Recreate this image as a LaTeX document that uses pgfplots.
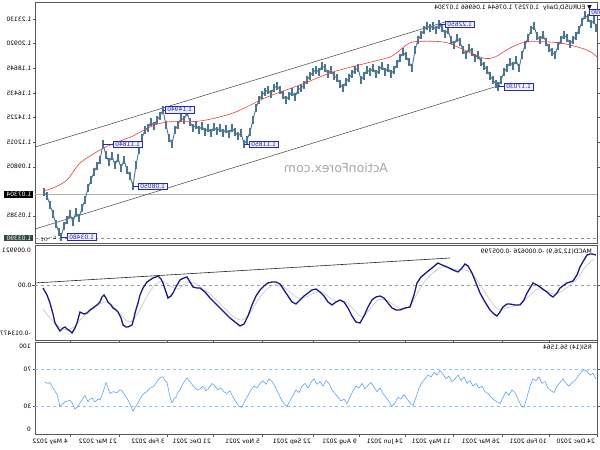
\documentclass[border=0pt]{standalone}
\usepackage{fontspec}
\setmainfont{DejaVu Sans}
\usepackage{graphicx}
\usepackage{pgfplots}
\pgfplotsset{compat=1.18}
\definecolor{barc}{RGB}{76,118,144}
\definecolor{mac}{RGB}{235,60,60}
\definecolor{macdc}{RGB}{25,25,130}
\definecolor{sigc}{RGB}{195,195,195}
\definecolor{rsic}{RGB}{70,150,235}
\definecolor{annb}{RGB}{40,40,170}
\definecolor{annf}{RGB}{240,240,255}
\definecolor{lowbox}{RGB}{50,72,62}
\newcommand{\mr}[1]{\reflectbox{#1}}
\newcommand{\sm}{\fontsize{6}{7}\selectfont}
\pgfplotsset{panel/.style={scale only axis, width=562pt, xmin=35, xmax=597,
  axis line style={draw=black!65, line width=0.6pt},
  tick style={draw=black!65, line width=0.5pt}, tick align=outside, major tick length=2.5pt,
  ticklabel style={font=\sm, inner sep=1pt}, xtick=\empty,
  yticklabel style={anchor=east}, clip=false}}
\tikzset{annot/.style={draw=annb, fill=annf, text=annb, font=\sm, inner xsep=2pt, inner ysep=1pt, line width=0.5pt}}
\begin{document}
\begin{tikzpicture}
\path[use as bounding box] (0,0) rectangle (600pt,-450pt);
% ---------------- main price panel
\begin{axis}[panel, at={(35pt,-2pt)}, anchor=north west, height=241pt,
  ymin=1.0293, ymax=1.2466,
  ytick={1.05385,1.09805,1.12015,1.14225,1.16435,1.18645,1.20920,1.23130},
  yticklabels={\mr{1.05385},\mr{1.09805},\mr{1.12015},\mr{1.14225},\mr{1.16435},\mr{1.18645},\mr{1.20920},\mr{1.23130}}]
\addplot[black!30, line width=0.5pt] coordinates {(35,1.07304)(597,1.07304)};
\addplot[black!45, dashed, line width=0.5pt] coordinates {(35,1.0339)(597,1.0339)};
\addplot[black!75, line width=0.5pt] coordinates {(35,1.1158)(445,1.2286)};
\addplot[black!75, line width=0.5pt] coordinates {(35,1.0419)(500,1.1715)};
\addplot[barc, line width=0.9pt, mark=none, error bars/.cd, y dir=both, y fixed=0.0038,
  error mark=none, error bar style={barc, line width=1.2pt}] coordinates {
(44,1.0753)(47,1.0716)(50,1.0635)(53,1.0554)(56,1.0464)(59,1.0392)(61,1.0348)(64,1.0446)(67,1.0500)(70,1.0554)
(73,1.0482)(76,1.0572)(79,1.0518)(82,1.0608)(85,1.0680)(88,1.0789)(91,1.0861)(94,1.0933)(97,1.0987)(100,1.1041)
(103,1.1184)(106,1.1086)(109,1.1023)(112,1.1077)(115,1.0996)(118,1.1059)(121,1.0969)(124,1.1041)(127,1.0951)(130,1.0897)
(133,1.0805)(136,1.0996)(139,1.1131)(142,1.1240)(145,1.1312)(148,1.1330)(151,1.1384)(154,1.1348)(157,1.1402)(160,1.1438)
(163,1.1494)(166,1.1357)(169,1.1240)(172,1.1186)(175,1.1312)(178,1.1357)(181,1.1420)(184,1.1402)(187,1.1474)(190,1.1384)
(193,1.1330)(196,1.1357)(199,1.1312)(202,1.1348)(205,1.1294)(208,1.1330)(211,1.1285)(214,1.1339)(217,1.1303)(220,1.1330)
(223,1.1285)(226,1.1321)(229,1.1276)(232,1.1330)(235,1.1294)(238,1.1258)(241,1.1285)(244,1.1185)(247,1.1222)(250,1.1294)
(253,1.1402)(256,1.1510)(259,1.1582)(262,1.1627)(265,1.1655)(268,1.1673)(271,1.1637)(274,1.1691)(277,1.1709)(280,1.1673)
(283,1.1627)(286,1.1582)(289,1.1618)(292,1.1655)(295,1.1609)(298,1.1673)(301,1.1691)(304,1.1718)(307,1.1763)(310,1.1799)
(313,1.1835)(316,1.1853)(319,1.1835)(322,1.1889)(325,1.1871)(328,1.1817)(331,1.1853)(334,1.1799)(337,1.1781)(340,1.1727)
(343,1.1691)(346,1.1745)(349,1.1781)(352,1.1817)(355,1.1853)(358,1.1871)(361,1.1763)(364,1.1799)(367,1.1853)(370,1.1835)
(373,1.1871)(376,1.1817)(379,1.1853)(382,1.1889)(385,1.1835)(388,1.1871)(391,1.1817)(394,1.1853)(397,1.1907)(400,1.1961)
(403,1.2015)(406,1.1979)(409,1.1925)(412,1.1871)(415,1.2033)(418,1.2124)(421,1.2169)(424,1.2214)(427,1.2250)(430,1.2232)
(433,1.2250)(436,1.2214)(439,1.2265)(442,1.2232)(445,1.2178)(448,1.2214)(451,1.2124)(454,1.2078)(457,1.2142)(460,1.2106)
(463,1.2033)(466,1.1988)(469,1.2051)(472,1.2015)(475,1.1961)(478,1.1988)(481,1.1925)(484,1.1889)(487,1.1853)(490,1.1799)
(493,1.1763)(496,1.1727)(498,1.1703)(501,1.1763)(504,1.1835)(507,1.1871)(510,1.1925)(513,1.1889)(516,1.1943)(519,1.1871)
(522,1.1988)(525,1.2078)(528,1.2142)(531,1.2214)(534,1.2250)(537,1.2160)(540,1.2124)(543,1.2169)(546,1.2106)(549,1.2051)
(552,1.2015)(555,1.1988)(558,1.2069)(561,1.2124)(564,1.2169)(567,1.2142)(570,1.2088)(573,1.2124)(576,1.2160)(579,1.2214)
(582,1.2286)(585,1.2349)(588,1.2322)(591,1.2268)(594,1.2304)(596,1.2232)};
\addplot[mac, line width=0.6pt, smooth] coordinates {
(43,1.0762)(53,1.0789)(67,1.0861)(80,1.1014)(100,1.1131)(115,1.1195)(133,1.1258)(150,1.1339)(167,1.1384)
(200,1.1393)(233,1.1465)(267,1.1609)(300,1.1718)(333,1.1835)(367,1.1916)(390,1.1970)(400,1.2033)(413,1.2106)
(443,1.2106)(460,1.2051)(483,1.1961)(495,1.1970)(510,1.2051)(527,1.2106)(560,1.2097)(587,1.2033)(597,1.1970)};
% annotations
\draw[annb, line width=0.5pt] (axis cs:439,1.2265) -- (axis cs:445,1.2265);
\node[annot, anchor=west] at (axis cs:445,1.2265) {\mr{1.22650}};
\draw[annb, line width=0.5pt] (axis cs:498,1.1703) -- (axis cs:504,1.1703);
\node[annot, anchor=west] at (axis cs:504,1.1703) {\mr{1.17030}};
\draw[annb, line width=0.5pt] (axis cs:163,1.1494) -- (axis cs:165,1.1494);
\node[annot, anchor=west] at (axis cs:165,1.1494) {\mr{1.14940}};
\draw[annb, line width=0.5pt] (axis cs:244,1.1185) -- (axis cs:249,1.1185);
\node[annot, anchor=west] at (axis cs:249,1.1185) {\mr{1.11850}};
\draw[annb, line width=0.5pt] (axis cs:103,1.1184) -- (axis cs:113,1.1184);
\node[annot, anchor=west] at (axis cs:113,1.1184) {\mr{1.11840}};
\draw[annb, line width=0.5pt] (axis cs:133,1.0805) -- (axis cs:138,1.0805);
\node[annot, anchor=west] at (axis cs:138,1.0805) {\mr{1.08050}};
\draw[annb, line width=0.5pt] (axis cs:61,1.0348) -- (axis cs:67,1.0348);
\node[annot, anchor=west] at (axis cs:67,1.0348) {\mr{1.03480}};
\node[annot, anchor=west] at (axis cs:589,1.2372) {\mr{1.23490}};
% price boxes
\node[fill=black, text=white, font=\sm, inner xsep=2pt, inner ysep=1pt, anchor=east] at (axis cs:33.5,1.07304) {\mr{1.07304}};
\node[fill=lowbox, text=white, font=\sm, inner xsep=2pt, inner ysep=1pt, anchor=east] at (axis cs:33.5,1.0339) {\mr{1.03390}};
% texts
\node[black!35, font=\fontsize{12.5}{14}\selectfont] at (axis cs:336,1.0969) {\mr{ActionForex.com}};
\node[anchor=north east, font=\sm, inner sep=1pt] at (rel axis cs:1,1) [xshift=-4pt, yshift=-2pt] {\mr{▼ EURUSD,Daily\ \ 1.07257 1.07644 1.06966 1.07304}};
\end{axis}
% ---------------- MACD panel
\begin{axis}[panel, at={(35pt,-245pt)}, anchor=north west, height=95pt,
  ymin=-0.013477, ymax=0.009921, ytick={0}, yticklabels={\mr{0.00}}]
\addplot[black!40, dashed, line width=0.4pt] coordinates {(35,0)(597,0)};
\addplot[black!85, line width=0.6pt] coordinates {(35,0.00057)(450,0.00672)};
\addplot[sigc, line width=0.6pt, smooth] coordinates {
(43,-0.00584)(50,-0.00805)(58,-0.01002)(66,-0.01101)(74,-0.01027)(82,-0.00805)(90,-0.00633)(98,-0.00485)(106,-0.00411)
(114,-0.00534)(122,-0.00756)(130,-0.00904)(138,-0.00682)(146,-0.00313)(154,-0.00017)(162,0.00106)(170,-0.00017)(178,-0.00091)
(186,0.00057)(194,0.00057)(202,-0.00067)(210,-0.00214)(218,-0.00411)(226,-0.00608)(234,-0.00781)(242,-0.00855)(250,-0.00682)
(258,-0.00362)(266,-0.00116)(274,0.00007)(282,-0.00017)(290,-0.00165)(298,-0.00313)(306,-0.00288)(314,-0.00190)(322,-0.00165)
(330,-0.00313)(338,-0.00411)(346,-0.00411)(354,-0.00608)(362,-0.00781)(370,-0.00584)(378,-0.00362)(386,-0.00362)(394,-0.00485)
(402,-0.00584)(410,-0.00510)(418,-0.00165)(426,0.00131)(434,0.00328)(442,0.00451)(450,0.00426)(458,0.00377)(466,0.00377)
(474,0.00229)(482,-0.00067)(490,-0.00362)(498,-0.00584)(506,-0.00559)(514,-0.00510)(522,-0.00436)(530,-0.00239)(538,-0.00091)
(546,-0.00140)(554,-0.00214)(562,-0.00140)(570,0.00007)(578,0.00180)(586,0.00475)(594,0.00648)};
\addplot[macdc, line width=1.3pt] coordinates {
(43,-0.00067)(47,-0.00239)(50,-0.00436)(53,-0.00707)(55,-0.00929)(58,-0.01052)(60,-0.01126)(63,-0.01052)(65,-0.01027)
(67,-0.01076)(70,-0.01126)(72,-0.01175)(75,-0.01052)(77,-0.00929)(80,-0.00658)(84,-0.00707)(87,-0.00682)(90,-0.00608)
(93,-0.00559)(97,-0.00485)(100,-0.00411)(102,-0.00288)(104,-0.00239)(106,-0.00313)(108,-0.00411)(111,-0.00485)(113,-0.00559)
(116,-0.00608)(118,-0.00658)(121,-0.00805)(123,-0.00978)(126,-0.01027)(128,-0.01027)(130,-0.01002)(132,-0.00978)(134,-0.00805)
(135,-0.00682)(138,-0.00436)(140,-0.00239)(143,-0.00067)(147,0.00081)(150,0.00131)(153,0.00180)(156,0.00204)(158,0.00229)
(161,0.00155)(163,0.00057)(166,-0.00165)(168,-0.00313)(171,-0.00264)(173,-0.00190)(176,-0.00042)(180,0.00131)(184,0.00180)
(187,0.00204)(190,0.00081)(193,-0.00042)(197,-0.00067)(200,-0.00067)(205,-0.00165)(210,-0.00313)(215,-0.00436)(220,-0.00559)
(225,-0.00682)(230,-0.00805)(235,-0.00904)(240,-0.01002)(244,-0.00953)(248,-0.00756)(252,-0.00485)(256,-0.00264)(260,-0.00116)
(264,-0.00017)(268,0.00057)(272,0.00081)(276,0.00081)(280,0.00032)(284,-0.00116)(288,-0.00264)(292,-0.00411)(296,-0.00461)
(300,-0.00362)(304,-0.00264)(308,-0.00190)(312,-0.00116)(316,-0.00091)(320,-0.00165)(324,-0.00264)(328,-0.00411)(332,-0.00485)
(336,-0.00411)(340,-0.00362)(344,-0.00411)(348,-0.00559)(352,-0.00756)(356,-0.00904)(360,-0.00929)(364,-0.00756)(368,-0.00534)
(372,-0.00362)(376,-0.00288)(380,-0.00264)(384,-0.00313)(388,-0.00436)(392,-0.00559)(396,-0.00608)(400,-0.00608)(405,-0.00559)
(410,-0.00534)(414,-0.00239)(417,0.00057)(421,0.00204)(427,0.00328)(432,0.00426)(438,0.00549)(442,0.00500)(447,0.00451)
(453,0.00377)(458,0.00328)(462,0.00426)(465,0.00525)(468,0.00475)(472,0.00303)(476,0.00057)(480,-0.00190)(485,-0.00411)
(490,-0.00608)(494,-0.00707)(497,-0.00756)(500,-0.00658)(503,-0.00534)(507,-0.00461)(510,-0.00461)(515,-0.00485)(520,-0.00485)
(524,-0.00362)(527,-0.00190)(530,-0.00067)(533,0.00057)(537,0.00007)(540,-0.00042)(544,-0.00116)(547,-0.00165)(550,-0.00239)
(553,-0.00288)(557,-0.00190)(560,-0.00067)(564,0.00007)(567,0.00057)(570,0.00081)(573,0.00106)(577,0.00254)(580,0.00451)
(584,0.00623)(587,0.00746)(590,0.00771)(592,0.00771)(596,0.00746)};
\node[anchor=east, font=\sm, inner sep=1pt] at (rel axis cs:0,1) [xshift=-3pt, yshift=-5pt] {\mr{0.009921}};
\node[anchor=east, font=\sm, inner sep=1pt] at (rel axis cs:0,0) [xshift=-3pt, yshift=7pt] {\mr{-0.013477}};
\node[anchor=north east, font=\sm, inner sep=1pt] at (rel axis cs:1,1) [xshift=-4pt, yshift=-3pt] {\mr{MACD(12,26,9) -0.000626 -0.005799}};
\end{axis}
% ---------------- RSI panel
\begin{axis}[panel, at={(35pt,-342pt)}, anchor=north west, height=92pt,
  ymin=0, ymax=100, ytick={30,70}, yticklabels={\mr{30},\mr{70}},
  xtick={70,119,167,213,262,313,359,405,453,502,549,597},
  xticklabels={\mr{4 May 2022},\mr{21 Mar 2022},\mr{3 Feb 2022},\mr{21 Dec 2021},\mr{5 Nov 2021},\mr{22 Sep 2021},\mr{9 Aug 2021},\mr{24 Jun 2021},\mr{11 May 2021},\mr{26 Mar 2021},\mr{10 Feb 2021},\mr{24 Dec 2020}},
  xticklabel style={anchor=north east, xshift=-1pt, yshift=-1pt}]
\addplot[rsic!60, dashed, line width=0.4pt] coordinates {(35,30)(597,30)};
\addplot[rsic!60, dashed, line width=0.4pt] coordinates {(35,70)(597,70)};
\addplot[rsic, line width=0.5pt] coordinates {
(45,56.2)(48,55)(50,56)(53,50)(57,43)(60,30.5)(63,33)(65,35)(68,36)(70,37)(72,34)(75,27)(78,30)(80,34)(82,37)(85,42)
(88,35)(90,38)(92,39)(95,35)(98,38)(100,37)(103,45)(106,56)(108,50)(110,44)(113,46)(117,45)(120,48)(122,47)(125,42)
(128,37)(131,30)(133,25)(135,29)(137,32)(140,38)(142,42)(145,45)(147,46)(150,50)(153,51)(156,55)(158,59)(161,62)(163,62)
(165,58)(167,56)(170,40)(172,34)(174,38)(176,40)(178,45)(180,48)(183,55)(185,58)(187,61)(189,58)(192,54)(195,50)(197,48)
(200,49)(203,52)(206,47)(209,50)(212,55)(215,52)(218,48)(221,50)(224,46)(227,44)(230,47)(233,40)(236,35)(239,30)(242,29)
(245,36)(248,42)(251,48)(254,52)(257,50)(260,55)(263,58)(266,54)(269,60)(272,57)(275,52)(278,45)(281,38)(284,33)(287,30)
(290,36)(293,42)(296,48)(299,45)(302,52)(305,55)(308,50)(311,56)(314,60)(317,54)(320,57)(323,52)(326,58)(329,55)(332,48)
(335,44)(338,40)(341,36)(344,38)(347,33)(350,40)(353,47)(356,52)(359,50)(362,55)(365,49)(368,53)(371,56)(374,51)(377,46)
(380,50)(383,44)(386,40)(389,35)(392,30)(395,34)(398,40)(401,38)(404,43)(407,38)(410,34)(413,31)(416,40)(419,50)(422,56)
(425,60)(428,64)(431,62)(434,67)(437,64)(440,69)(443,65)(446,60)(449,63)(452,57)(455,60)(458,64)(461,58)(464,62)(467,55)
(470,58)(473,52)(476,55)(479,50)(482,52)(485,46)(488,44)(491,40)(494,37)(497,35)(500,33)(503,40)(506,46)(509,42)(512,48)
(515,45)(518,38)(521,31)(524,29)(527,40)(530,52)(533,60)(536,58)(539,62)(542,55)(545,57)(548,50)(551,47)(554,45)(557,52)
(560,56)(563,60)(566,55)(569,52)(572,56)(575,58)(578,63)(581,67)(584,70)(587,68)(590,64)(593,66)(596,60)};
\node[anchor=east, font=\sm, inner sep=1pt] at (rel axis cs:0,1) [xshift=-3pt, yshift=-4pt] {\mr{100}};
\node[anchor=east, font=\sm, inner sep=1pt] at (rel axis cs:0,0) [xshift=-3pt, yshift=5pt] {\mr{0}};
\node[anchor=north east, font=\sm, inner sep=1pt] at (rel axis cs:1,1) [xshift=-4pt, yshift=-2pt] {\mr{RSI(14) 56.1564}};
\end{axis}
\end{tikzpicture}
\end{document}
